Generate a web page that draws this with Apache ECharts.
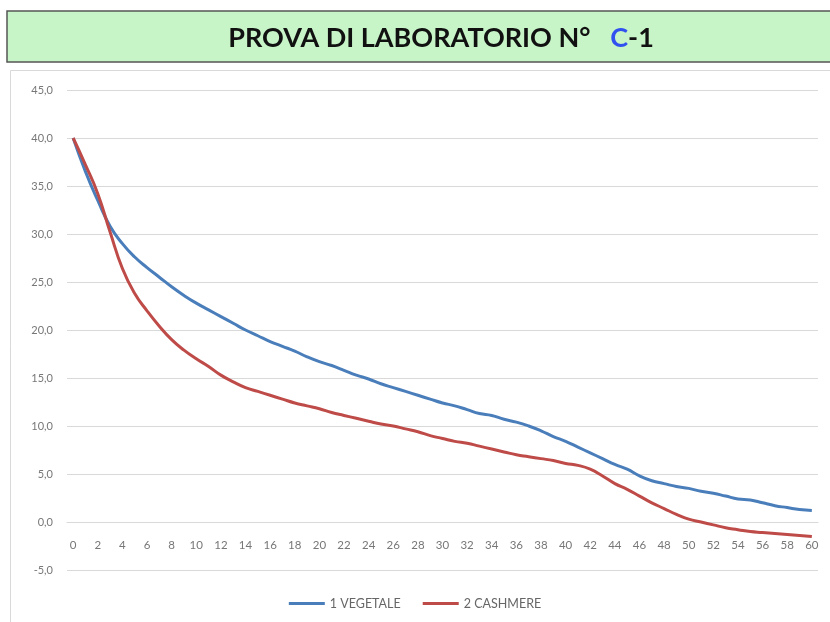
<!DOCTYPE html>
<html>
<head>
<meta charset="utf-8">
<script src="https://cdn.jsdelivr.net/npm/echarts@6/dist/echarts.min.js"></script>
<style>
  html, body { margin: 0; padding: 0; background: #fff; }
  #chart { width: 830px; height: 622px; }
</style>
</head>
<body>
<div id="chart"></div>
<script>
// minutes 0..60
const minutes = [];
for (let m = 0; m <= 60; m++) minutes.push(String(m));

const vegetale = [
  40.0, 36.5, 33.5, 30.8, 29.0, 27.6, 26.5, 25.5, 24.5, 23.6,
  22.8, 22.1, 21.4, 20.7, 20.0, 19.4, 18.8, 18.3, 17.8, 17.2,
  16.7, 16.3, 15.8, 15.3, 14.9, 14.4, 14.0, 13.6, 13.2, 12.8,
  12.4, 12.1, 11.7, 11.3, 11.1, 10.7, 10.4, 10.0, 9.5, 8.9,
  8.4, 7.8, 7.2, 6.6, 6.0, 5.5, 4.8, 4.3, 4.0, 3.7,
  3.5, 3.2, 3.0, 2.7, 2.4, 2.3, 2.0, 1.7, 1.5, 1.3,
  1.2
];

const cashmere = [
  40.0, 37.2, 34.2, 30.2, 26.4, 23.8, 22.0, 20.4, 19.0, 17.9,
  17.0, 16.2, 15.3, 14.6, 14.0, 13.6, 13.2, 12.8, 12.4, 12.1,
  11.8, 11.4, 11.1, 10.8, 10.5, 10.2, 10.0, 9.7, 9.4, 9.0,
  8.7, 8.4, 8.2, 7.9, 7.6, 7.3, 7.0, 6.8, 6.6, 6.4,
  6.1, 5.9, 5.5, 4.8, 4.0, 3.4, 2.7, 2.0, 1.4, 0.8,
  0.3, 0.0, -0.3, -0.6, -0.8, -1.0, -1.1, -1.2, -1.3, -1.4,
  -1.5
];

const seriesNames = ['1 VEGETALE', '2 CASHMERE'];

const chart = echarts.init(document.getElementById('chart'));

const option = {
  animation: false,
  textStyle: { fontFamily: 'Lato, "Open Sans", sans-serif' },
  graphic: [
    {
      type: 'rect',
      shape: { x: 10.5, y: 70.5, width: 840, height: 600 },
      style: { fill: '#fff', stroke: '#d9d9d9', lineWidth: 1 },
      z: -10
    },
    {
      type: 'rect',
      shape: { x: 7, y: 11, width: 840, height: 51 },
      style: { fill: '#c8f5c8', stroke: '#555', lineWidth: 1.5 },
      z: -5
    }
  ],
  title: {
    text: '{b|PROVA DI LABORATORIO N°   }{c|C}{b|-1}',
    left: 436,
    top: 20,
    textAlign: 'center',
    textStyle: {
      rich: {
        b: { fontSize: 27, fontWeight: 'bold', color: '#111', fontFamily: 'Lato' },
        c: { fontSize: 27, fontWeight: 'bold', color: '#3050f0', fontFamily: 'Lato' }
      }
    }
  },
  legend: {
    data: seriesNames,
    bottom: 7,
    left: 'center',
    icon: 'rect',
    itemWidth: 36,
    itemHeight: 3,
    itemGap: 22,
    textStyle: { fontSize: 12.5, color: '#666' }
  },
  grid: { left: 67, right: 12, top: 90, bottom: 52 },
  xAxis: {
    type: 'category',
    data: minutes,
    boundaryGap: true,
    offset: -48,
    axisLine: { show: true, lineStyle: { color: '#d9d9d9', width: 1.2 } },
    axisTick: { show: false },
    axisLabel: { interval: 1, color: '#777', fontSize: 11.5, margin: 17 }
  },
  yAxis: {
    type: 'value',
    min: -5,
    max: 45,
    interval: 5,
    axisLine: { show: false },
    axisTick: { show: false },
    splitLine: { lineStyle: { color: '#d9d9d9', width: 1.2 } },
    axisLabel: {
      color: '#777',
      fontSize: 11,
      margin: 14,
      formatter: v => v.toFixed(1).replace('.', ',')
    }
  },
  series: [
    {
      name: seriesNames[0],
      type: 'line',
      data: vegetale,
      smooth: true,
      showSymbol: false,
      lineStyle: { color: '#4a7ebb', width: 3 },
      itemStyle: { color: '#4a7ebb' }
    },
    {
      name: seriesNames[1],
      type: 'line',
      data: cashmere,
      smooth: true,
      showSymbol: false,
      lineStyle: { color: '#be4b48', width: 3 },
      itemStyle: { color: '#be4b48' }
    }
  ]
};

chart.setOption(option);
</script>
</body>
</html>
